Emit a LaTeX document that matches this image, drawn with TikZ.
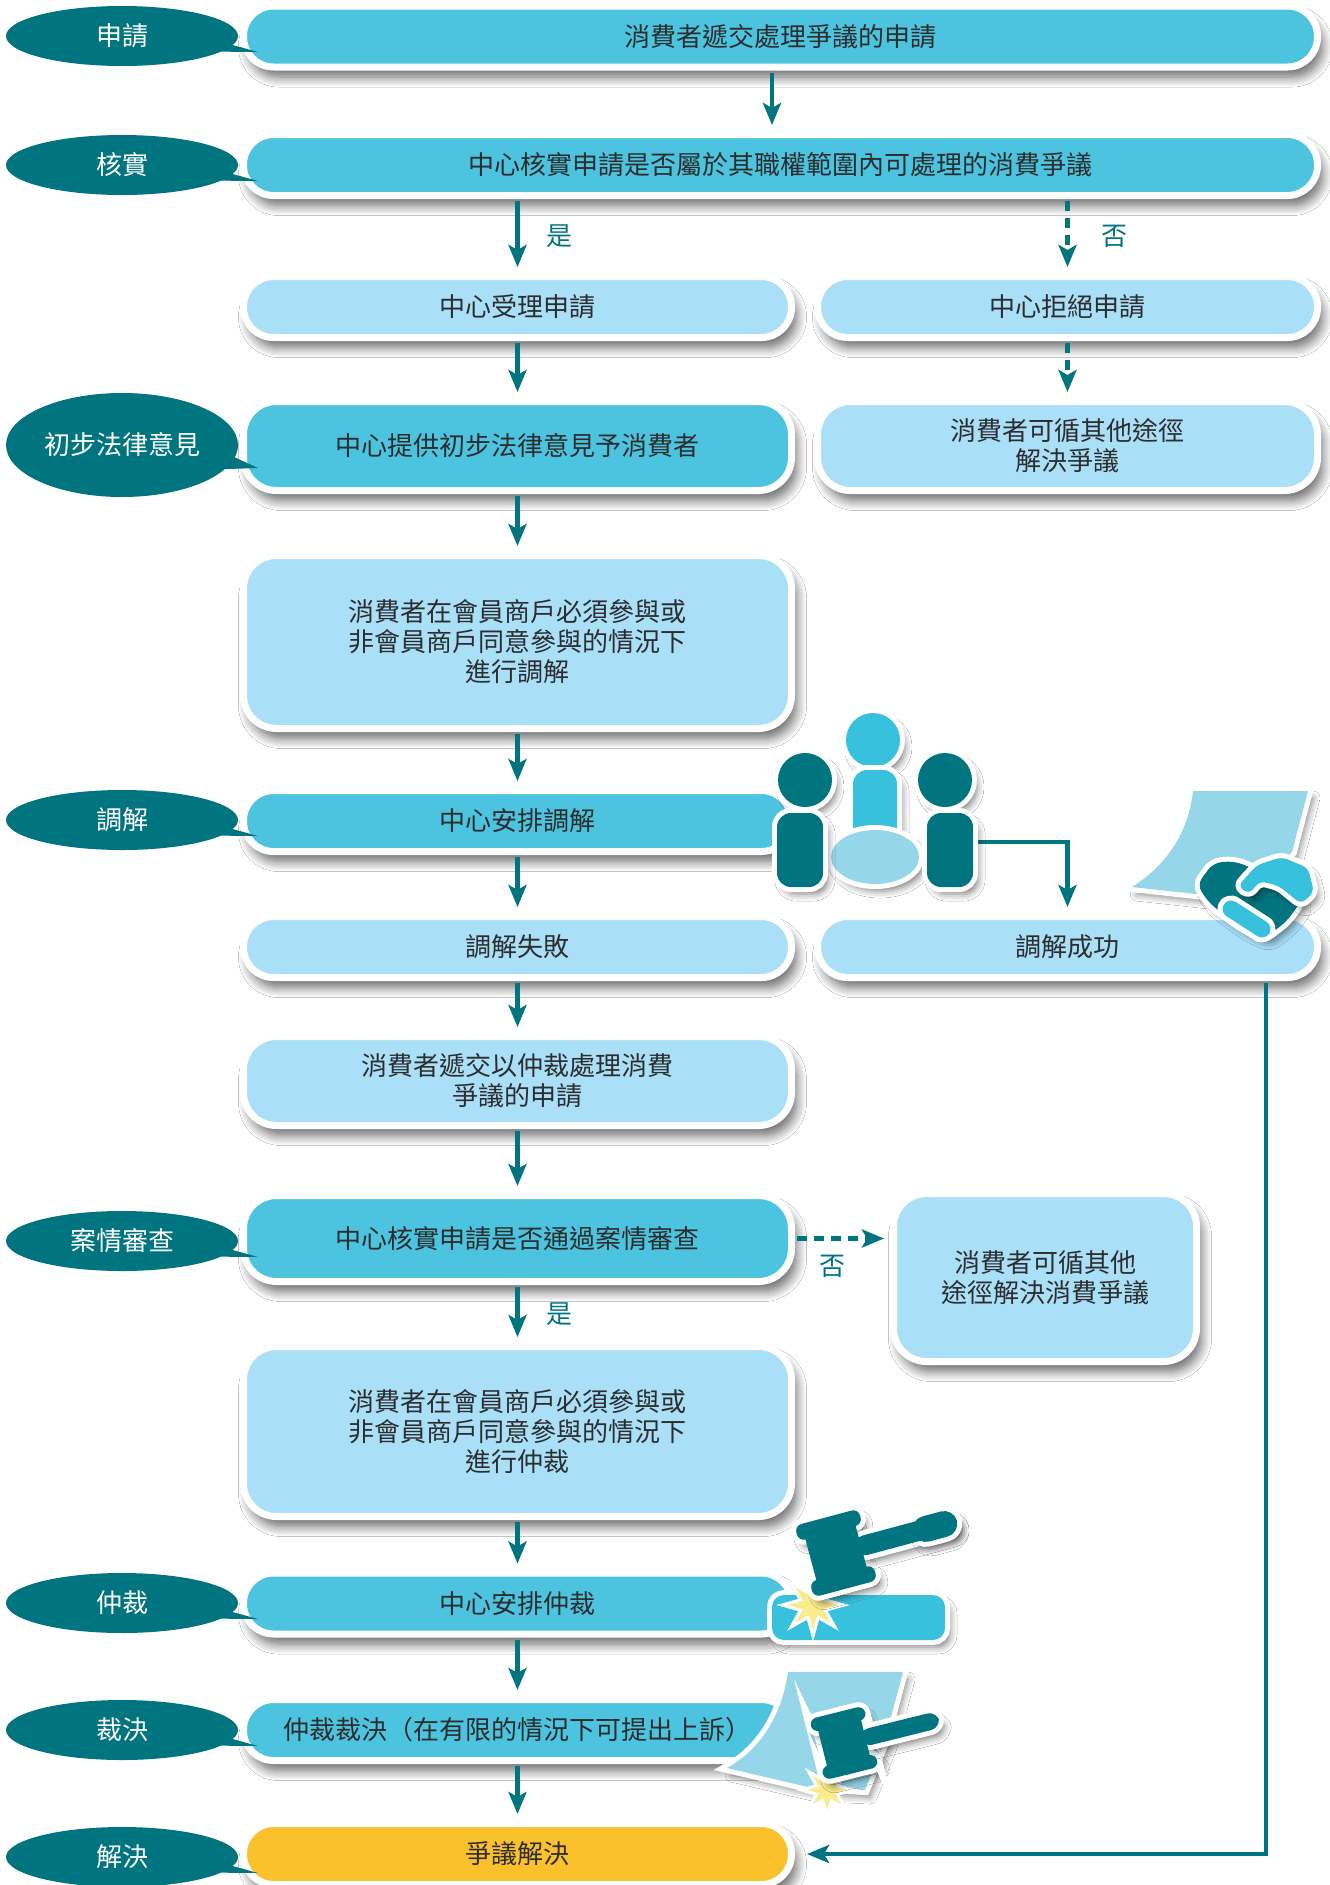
\documentclass[tikz,border=0pt]{standalone}
\usepackage{fontspec}
\setmainfont{Noto Sans CJK TC}
\usetikzlibrary{arrows.meta, shapes.geometric, shapes.callouts, shadows.blur}

\definecolor{deepteal}{RGB}{0,116,127}
\definecolor{midcyan}{RGB}{76,196,224}
\definecolor{palecyan}{RGB}{170,223,248}
\definecolor{skycyan}{RGB}{56,193,220}
\definecolor{mistcyan}{RGB}{149,215,232}
\definecolor{goldfill}{RGB}{251,193,45}
\definecolor{sparkle}{RGB}{250,235,140}
\definecolor{ink}{RGB}{45,45,45}

\tikzset{
  box/.style={draw=white, line width=7pt, inner sep=0pt, align=center, text=ink,
    font=\fontsize{26pt}{30pt}\selectfont,
    blur shadow={shadow xshift=5pt, shadow yshift=-10pt, shadow blur radius=10pt,
      shadow blur steps=10, shadow opacity=60}},
  pill/.style={box, rounded corners=30pt, minimum height=61pt},
  card/.style={box, rounded corners=33pt},
  deep/.style={fill=midcyan},
  soft/.style={fill=palecyan},
  goal/.style={fill=goldfill},
  tag/.style={ellipse callout, fill=deepteal, text=white, inner sep=0pt,
    minimum width=232pt, minimum height=60pt, callout pointer arc=14,
    font=\fontsize{26pt}{30pt}\selectfont},
  flow/.style={draw=deepteal, line width=4.5pt,
    -{Stealth[length=22pt, width=18pt, inset=5pt]}, shorten <=2pt, shorten >=6pt},
  refuse/.style={flow, dash pattern=on 10pt off 7pt},
  verdict/.style={text=deepteal, inner sep=0pt, font=\fontsize{26pt}{30pt}\selectfont},
  cutout/.style={blur shadow={shadow xshift=5pt, shadow yshift=-7pt,
      shadow blur radius=7pt, shadow opacity=50},
    preaction={draw=white, line width=10pt}},
  gavelrim/.style={draw=white, fill=white, line width=10pt,
    blur shadow={shadow xshift=5pt, shadow yshift=-7pt, shadow blur radius=7pt,
      shadow opacity=50}},
  spark/.style={star, star points=8, star point ratio=2.3, inner sep=0pt,
    fill=sparkle, draw=white, line width=3pt}
}

% head, caps and handle of a gavel, #2 = end of the handle
\newcommand{\gavelparts}[2]{%
  \path[#1] (-26,-27) rectangle (26,27);
  \path[#1, rounded corners=7pt] (-33,-37) rectangle (33,-21);
  \path[#1, rounded corners=7pt] (-33,21) rectangle (33,37);
  \path[#1, rounded corners=10pt] (20,-10) rectangle (#2,10);
}

\begin{document}
\begin{tikzpicture}[x=1pt, y=-1pt]
  \fill[white] (0,0) rectangle (1330,1885);
  \useasboundingbox (0,0) rectangle (1330,1885);

  % Steps
  \node[pill, deep, minimum width=1074pt] (apply) at (780.5,36.5) {消費者遞交處理爭議的申請};
  \node[pill, deep, minimum width=1074pt] (verify) at (780.5,165) {中心核實申請是否屬於其職權範圍內可處理的消費爭議};
  \node[pill, soft, minimum width=548pt] (accept) at (517.5,307) {中心受理申請};
  \node[pill, soft, minimum width=500pt] (reject) at (1067.5,307) {中心拒絕申請};
  \node[card, deep, minimum width=548pt, minimum height=89pt] (advice) at (517.5,446) {中心提供初步法律意見予消費者};
  \node[card, soft, minimum width=500pt, minimum height=89pt] (other) at (1067.5,446) {消費者可循其他途徑\\解決爭議};
  \node[card, soft, minimum width=548pt, minimum height=173pt] (medprep) at (517.5,642) {消費者在會員商戶必須參與或\\非會員商戶同意參與的情況下\\進行調解};
  \node[pill, deep, minimum width=548pt] (mediate) at (517.5,821) {中心安排調解};
  \node[pill, soft, minimum width=548pt] (medfail) at (517.5,947) {調解失敗};
  \node[pill, soft, minimum width=500pt] (medok) at (1067.5,947) {調解成功};
  \node[card, soft, minimum width=548pt, minimum height=89pt] (arbapply) at (517.5,1081) {消費者遞交以仲裁處理消費\\爭議的申請};
  \node[card, deep, minimum width=548pt, minimum height=86pt] (merit) at (517.5,1238.5) {中心核實申請是否通過案情審查};
  \node[card, soft, minimum width=303pt, minimum height=168pt] (othermerit) at (1045,1277.5) {消費者可循其他\\途徑解決消費爭議};
  \node[card, soft, minimum width=548pt, minimum height=170pt] (arbprep) at (517.5,1431.5) {消費者在會員商戶必須參與或\\非會員商戶同意參與的情況下\\進行仲裁};
  \node[pill, deep, minimum width=548pt] (arbitrate) at (517.5,1603.5) {中心安排仲裁};
  \node[pill, deep, minimum width=548pt] (award) at (517.5,1730) {仲裁裁決（在有限的情況下可提出上訴）};
  \node[pill, goal, minimum width=548pt] (resolved) at (517.5,1854) {爭議解決};

  % Arrows
  \draw[flow] ([xshift=-8.5pt]apply.south) -- ([xshift=-8.5pt]verify.north);
  \draw[flow] (verify.south -| accept.north) -- (accept.north) node[midway, right=27pt, verdict] {是};
  \draw[refuse] (verify.south -| reject.north) -- (reject.north) node[midway, right=32pt, verdict] {否};
  \draw[flow] (accept) -- (advice);
  \draw[refuse] (reject) -- (other);
  \draw[flow] (advice) -- (medprep);
  \draw[flow] (medprep) -- (mediate);
  \draw[flow] (mediate) -- (medfail);
  \draw[flow] (medfail) -- (arbapply);
  \draw[flow] (arbapply) -- (merit);
  \draw[flow] (merit) -- (arbprep) node[midway, right=27pt, verdict] {是};
  \draw[refuse] (merit.east) -- (merit.east -| othermerit.west) node[pos=0.39, below=14pt, verdict] {否};
  \draw[flow] (arbprep) -- (arbitrate);
  \draw[flow] (arbitrate) -- (award);
  \draw[flow] (award) -- (resolved);
  \coordinate (table) at (975,842);
  \draw[flow] (table) -| (medok.north);
  \draw[flow, shorten >=12pt] ([xshift=198.5pt]medok.south) |- (resolved.east);

  % Stage tags
  \node[tag, callout absolute pointer={(258,52)}] (tagapply) at (122,36) {申請};
  \node[tag, callout absolute pointer={(258,181)}] (tagverify) at (122,165) {核實};
  \node[tag, minimum height=104pt, callout absolute pointer={(258,468)}] (tagadvice) at (122,445) {初步法律意見};
  \node[tag, callout absolute pointer={(258,836)}] (tagmediate) at (122,820) {調解};
  \node[tag, callout absolute pointer={(258,1257)}] (tagmerit) at (122,1241) {案情審查};
  \node[tag, callout absolute pointer={(258,1619)}] (tagarbitrate) at (122,1603) {仲裁};
  \node[tag, callout absolute pointer={(258,1746)}] (tagaward) at (122,1730) {裁決};
  \node[tag, callout absolute pointer={(258,1873)}] (tagresolved) at (122,1857) {解決};

  % People round a table
  \path[cutout, fill=skycyan] (873,740) circle[radius=27];
  \path[cutout, fill=skycyan, rounded corners=14pt] (853,770) rectangle (897,842);
  \path[cutout, fill=mistcyan] (875,857) ellipse[x radius=44, y radius=27];
  \path[cutout, fill=deepteal] (805,780) circle[radius=27];
  \path[cutout, fill=deepteal, rounded corners=14pt] (777,813) rectangle (823,887);
  \path[cutout, fill=deepteal] (945,780) circle[radius=27];
  \path[cutout, fill=deepteal, rounded corners=14pt] (927,813) rectangle (973,887);

  % Handshake on a sheet
  \path[cutout, fill=mistcyan] (1193,791) -- (1308,791) -- (1292,852) -- (1250,900) -- (1132,887)
    .. controls (1165,866) and (1188,835) .. (1193,791) -- cycle;
  \path[cutout, fill=deepteal, rounded corners=8pt] (1197,885) -- (1213,863) -- (1233,861) -- (1250,867)
    -- (1282,883) -- (1302,900) -- (1287,921) -- (1265,938) -- (1243,928) -- (1210,904) -- cycle;
  \path[cutout, fill=skycyan, rounded corners=6pt] (1238,886) -- (1257,865) -- (1282,857) -- (1308,868)
    -- (1314,892) -- (1301,904) -- (1279,886) -- (1260,881) -- (1249,894) -- cycle;
  \draw[skycyan, line width=17pt, line cap=round,
    preaction={draw=white, line width=27pt, line cap=round}] (1231,909) -- (1262,929);

  % Gavel on its block
  \path[cutout, fill=skycyan, rounded corners=12pt] (772,1595) rectangle (945,1640);
  \node[spark, minimum size=62pt] (bang) at (813,1605) {};
  \begin{scope}[shift={(836,1553)}, rotate=15]
    \gavelparts{gavelrim}{125}
    \path[gavelrim, rounded corners=13pt] (80,-13) rectangle (125,13);
    \gavelparts{fill=deepteal}{125}
    \path[fill=deepteal, rounded corners=13pt] (80,-13) rectangle (125,13);
  \end{scope}

  % Gavel on the award sheet
  \path[cutout, fill=mistcyan] (788,1672) -- (903,1672) -- (885,1740) -- (865,1790) -- (808,1787)
    -- (727,1768) .. controls (760,1750) and (782,1715) .. (788,1672) -- cycle;
  \node[spark, minimum size=52pt] (thud) at (827,1790) {};
  \begin{scope}[shift={(844,1743)}, rotate=14, scale=0.85]
    \gavelparts{gavelrim}{115}
    \gavelparts{fill=deepteal}{115}
  \end{scope}
\end{tikzpicture}
\end{document}
